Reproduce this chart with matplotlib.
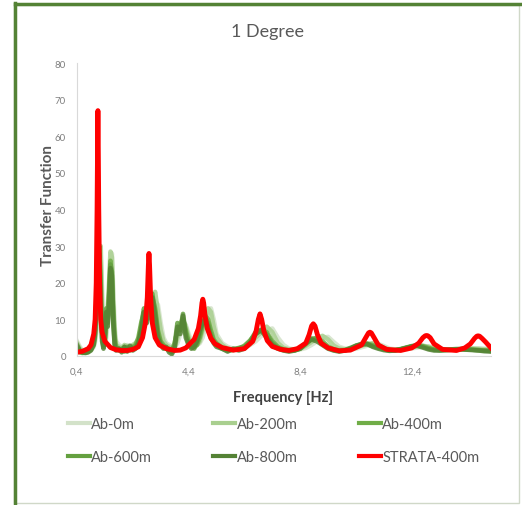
import matplotlib
matplotlib.use("Agg")
import matplotlib.pyplot as plt
from matplotlib.lines import Line2D
from matplotlib.ticker import FuncFormatter

plt.rcParams['font.family'] = ['Lato', 'DejaVu Sans']

# frequency grid shared by the Ab-* series
freq = [0.4, 0.5, 0.6, 0.7, 0.8, 0.9, 1.0,
        1.05, 1.1, 1.15, 1.2, 1.25, 1.3, 1.35, 1.4, 1.45, 1.5, 1.55, 1.6, 1.65, 1.7, 1.75, 1.8,
        1.9, 2.0, 2.1, 2.2, 2.3, 2.4, 2.5, 2.6, 2.7, 2.8, 2.9, 3.0, 3.1, 3.2, 3.3, 3.4, 3.5,
        3.6, 3.7, 3.8, 3.9, 4.0, 4.1, 4.2, 4.3, 4.4, 4.5, 4.6, 4.7, 4.8, 4.9, 5.0, 5.1, 5.2,
        5.3, 5.4,
        5.6, 5.8, 6.0, 6.2, 6.4, 6.6, 6.8, 7.0, 7.2, 7.4, 7.6, 7.8, 8.0, 8.2, 8.4, 8.6, 8.8,
        9.0, 9.2, 9.4, 9.6, 9.8, 10.0, 10.2, 10.4, 10.6, 10.8, 11.0, 11.2, 11.4, 11.6, 11.8,
        12.0, 12.2, 12.4, 12.6, 12.8, 13.0, 13.2, 13.4, 13.6, 13.8, 14.0, 14.2, 14.4, 14.6,
        14.8, 15.0, 15.24]

ab0 = [4, 2.5, 1.5, 1.2, 1.3, 1.6, 2.5,
       4, 7, 12, 20, 27, 18, 6, 3, 5, 10, 16, 24, 28, 18, 8, 4,
       3, 2.5, 2.5, 3, 2.5, 2.5, 3, 4, 5.5, 8, 10, 11, 13, 15, 14, 9, 5,
       3.5, 3, 2.5, 2.5, 3.5, 6, 8, 8.5, 6, 4, 3.5, 3, 3.5, 5, 8, 11, 13,
       10, 6,
       3.5, 2.5, 2, 2, 2.3, 3, 4, 5.5, 7, 7.5, 5, 3, 2, 1.8, 1.8, 2.2, 3,
       4, 5, 5.2, 3.8, 2.5, 2, 1.8, 2, 2.4, 2.8, 3.2, 3.3, 2.7, 2, 1.8,
       1.7, 1.9, 2.1, 2.3, 2.5, 2.6, 2.3, 2, 1.8, 1.7, 1.8, 1.9, 2, 2.1,
       2.1, 2, 1.9]

ab200 = [3.5, 2, 1.2, 1, 1.2, 1.8, 3,
         5, 10, 18, 26, 30, 12, 4, 3, 8, 13, 20, 28.5, 27, 14, 6, 3,
         2.5, 2, 3, 2.5, 2, 3, 3.5, 4.5, 7, 10, 12, 13, 15, 17.5, 12, 7, 4,
         3, 2.5, 2, 2.5, 5, 9, 10, 8, 5, 3.5, 3, 3, 4, 7, 10, 13, 12,
         8, 5,
         3, 2, 1.8, 2, 2.5, 3.5, 5, 6.5, 8, 6.5, 3.5, 2.2, 1.8, 1.8, 2, 2.8, 3.8,
         4.8, 5.5, 4.5, 2.8, 2, 1.8, 2, 2.4, 2.8, 3.2, 3.5, 3, 2.2, 1.8, 1.7,
         1.8, 2.1, 2.4, 2.6, 2.8, 2.5, 2, 1.8, 1.7, 1.7, 1.8, 1.9, 2, 2,
         1.9, 1.8, 1.7]

ab400 = [2, 1, 0.8, 1, 1.3, 2, 4,
         8, 15, 22, 29, 20, 7, 3, 4, 10, 11, 17, 26, 21, 12, 5, 2.5,
         2, 1.5, 2.5, 2, 1.5, 2.5, 3, 5, 9, 12, 11, 14, 16, 13, 7, 4, 3,
         2, 2, 1.5, 3.5, 7, 8, 10, 7, 4, 3, 2.5, 3, 5, 8, 11, 10, 7,
         4.5, 3.5,
         2.2, 1.6, 1.6, 2, 2.8, 4.2, 6, 7.2, 6.5, 4, 2.5, 1.8, 1.5, 1.5, 2, 3.2, 4.5,
         5, 4, 2.6, 1.8, 1.5, 1.5, 2, 2.6, 3.2, 3.4, 3, 2.4, 1.9, 1.6, 1.5,
         1.8, 2.2, 2.6, 3, 2.7, 2.2, 1.8, 1.6, 1.6, 1.7, 1.8, 1.9, 1.8, 1.7,
         1.6, 1.5, 1.4]

ab600 = [2.5, 1.2, 0.9, 0.9, 1.1, 1.8, 3.5,
         7, 16, 26, 30, 16, 5, 2.5, 6, 13, 9, 16, 25, 23, 10, 3.5, 2,
         1.5, 2, 1.2, 2.5, 1.8, 2.2, 2.5, 4, 8, 13, 10, 13, 17, 12, 6, 3.5, 2.5,
         2, 1.5, 1, 3, 9, 7, 11.5, 6, 3.5, 2.5, 2, 3.5, 6, 9, 10.5, 9, 6,
         4, 3,
         2, 1.5, 1.8, 2.2, 2.5, 4, 6.5, 7, 6, 3.5, 2.2, 1.6, 1.4, 1.6, 2.2, 3.5, 4.8,
         4.5, 3.5, 2.2, 1.6, 1.4, 1.6, 2.2, 2.8, 3.3, 3.2, 2.7, 2.2, 1.8, 1.5, 1.6,
         1.9, 2.3, 2.7, 2.9, 2.5, 2, 1.7, 1.6, 1.7, 1.8, 1.9, 1.9, 1.8, 1.7,
         1.6, 1.5, 1.4]

ab800 = [3, 1.5, 1, 0.8, 1, 1.5, 3,
         6, 14, 24, 28, 14, 4, 2, 5, 12, 8, 14, 24, 22, 9, 3, 1.5,
         2, 1, 2.5, 1.2, 2.8, 1.5, 2, 3.5, 7, 12, 9, 12, 16, 11, 5, 3, 2,
         2.5, 1, 0.5, 2, 8, 6, 11, 5, 3, 2, 2.5, 4, 7, 9, 10, 8, 5,
         3.5, 2.5,
         2, 1.2, 2, 1.5, 2, 3.5, 6, 7, 5, 3, 2, 1.5, 1.2, 1.5, 2, 3.5, 4.5,
         4, 3, 2, 1.5, 1.2, 1.5, 2, 2.8, 3.2, 3.3, 2.5, 2, 1.6, 1.4, 1.5,
         1.8, 2.2, 2.6, 2.8, 2.3, 1.8, 1.5, 1.5, 1.6, 1.7, 1.8, 1.8, 1.7, 1.6,
         1.5, 1.3, 1.2]

# STRATA-400m
strata_f = [0.4, 0.6, 0.8, 0.9, 1.0, 1.05, 1.09, 1.12, 1.14, 1.15, 1.16, 1.18, 1.21, 1.25,
            1.3, 1.4, 1.6, 1.8, 2.0, 2.2, 2.4, 2.6,
            2.75, 2.85, 2.92, 2.96, 2.98, 3.0, 3.04, 3.1, 3.2, 3.35, 3.6, 3.9, 4.1, 4.3,
            4.6, 4.75, 4.83, 4.88, 4.91, 4.94, 4.99, 5.07, 5.2, 5.35, 5.6, 6.0, 6.4,
            6.7, 6.82, 6.9, 6.96, 7.02, 7.1, 7.22, 7.4, 7.7, 8.0, 8.3,
            8.6, 8.72, 8.81, 8.87, 8.93, 9.02, 9.15, 9.4, 9.8, 10.2,
            10.6, 10.75, 10.85, 10.9, 10.95, 11.05, 11.2, 11.5, 12.0, 12.4,
            12.65, 12.8, 12.88, 12.93, 12.98, 13.06, 13.2, 13.5, 14.0, 14.3,
            14.5, 14.65, 14.73, 14.78, 14.83, 14.92, 15.05, 15.24]
strata_v = [1.0, 1.3, 2.0, 3.0, 6, 10, 20, 40, 60, 67, 60, 40, 20, 10,
            6.5, 4, 2.3, 1.7, 1.5, 1.5, 1.8, 2.5,
            5, 9, 16, 25, 28, 25, 16, 9, 5, 3, 2, 1.5, 1.6, 2.2,
            4.5, 7.5, 11, 14.5, 15.5, 14.5, 11, 7.5, 4.8, 3.3, 2.3, 1.6, 2,
            4, 6.8, 10, 11.5, 10, 6.8, 4.2, 2.6, 1.8, 1.5, 2,
            3.5, 5.8, 8.2, 8.8, 8.2, 5.8, 3.5, 2.2, 1.4, 1.6,
            3, 5, 6.3, 6.5, 6.3, 5, 3, 1.8, 1.5, 2.2,
            3.5, 5, 5.5, 5.6, 5.5, 5, 3.3, 1.8, 1.5, 2.2,
            3.3, 4.8, 5.4, 5.5, 5.4, 4.8, 3.8, 2.2]

labels = ["Ab-0m", "Ab-200m", "Ab-400m", "Ab-600m", "Ab-800m", "STRATA-400m"]
colors = ["#d3e2c9", "#a9cf8f", "#70ad47", "#64a03f", "#548235", "#ff0000"]
x_ticks = [0.4, 4.4, 8.4, 12.4]

fig = plt.figure(figsize=(5.22, 5.06), dpi=100)
ax = fig.add_axes([0.1475, 0.2945, 0.7931, 0.579])

for vals, c in zip([ab0, ab200, ab400, ab600, ab800], colors[:5]):
    ax.plot(freq, vals, color=c, lw=3.3, alpha=0.85, solid_joinstyle='round')
ax.plot(strata_f, strata_v, color=colors[5], lw=3.5, solid_joinstyle='round')

ax.set_xlim(0.4, 15.24)
ax.set_ylim(0, 80)
ax.set_yticks(range(0, 81, 10))
ax.set_xticks(x_ticks)
ax.xaxis.set_major_formatter(FuncFormatter(lambda v, p: ("%.1f" % v).replace(".", ",")))
ax.tick_params(length=0, labelsize=7, colors="#7f7f7f", pad=8)
for s in ["top", "right"]:
    ax.spines[s].set_visible(False)
ax.spines["left"].set_color("#d9d9d9")
ax.spines["bottom"].set_color("#d9d9d9")

fig.text(0.512, 0.937, "1 Degree", ha="center", va="center", fontsize=13, color="#595959")
fig.text(0.092, 0.593, "Transfer Function", rotation=90, ha="center", va="center",
         fontsize=11, color="#595959", fontweight="bold")
fig.text(0.542, 0.213, "Frequency [Hz]", ha="center", va="center",
         fontsize=10.5, color="#404040", fontweight="bold")

# legend filled row by row, like the original
order = [0, 3, 1, 4, 2, 5]
handles = [Line2D([], [], color=colors[i], lw=3) for i in order]
fig.legend(handles, [labels[i] for i in order], ncol=3, loc="center",
           bbox_to_anchor=(0.524, 0.128), frameon=False, fontsize=10.5,
           labelcolor="#595959", handlelength=1.5, handletextpad=0.1,
           columnspacing=4.2, labelspacing=1.3)

# chart frame
fig.add_artist(plt.Rectangle((0.027, 0.004), 0.967, 0.985, transform=fig.transFigure,
                             fill=False, edgecolor="#d0d8c8", lw=1))
fig.add_artist(Line2D([0.028, 1.0], [0.9905, 0.9905], transform=fig.transFigure,
                      color="#548235", lw=2.5))
fig.add_artist(Line2D([0.028, 0.028], [0.0, 0.993], transform=fig.transFigure,
                      color="#548235", lw=2.5))

fig.savefig("out.png", dpi=100)
